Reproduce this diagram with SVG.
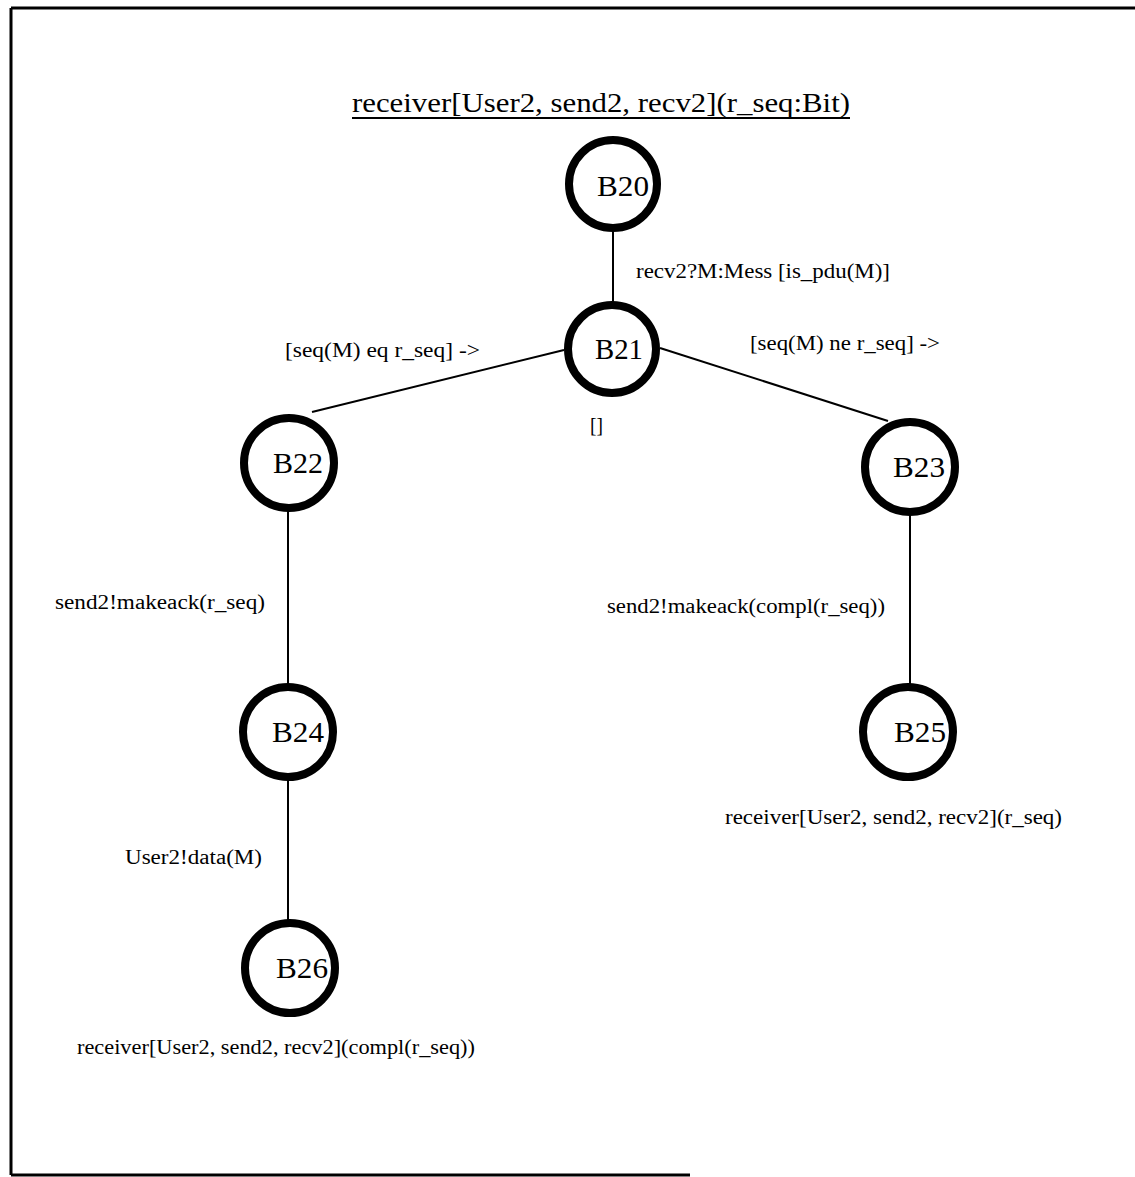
<svg xmlns="http://www.w3.org/2000/svg" width="1135" height="1177" viewBox="0 0 1135 1177">
  <style>
    .frame { stroke: #000; stroke-width: 3; fill: none; }
    .node circle { fill: #fff; stroke: #000; stroke-width: 8; }
    .node text { font-family: "Liberation Serif", "Times New Roman", serif; font-size: 30px; fill: #000; }
    .edges line { stroke: #000; stroke-width: 2; }
    .lbl { font-family: "Liberation Serif", "Times New Roman", serif; font-size: 20px; fill: #000; }
    .title { font-family: "Liberation Serif", "Times New Roman", serif; font-size: 27px; fill: #000; }
  </style>
  <rect width="1135" height="1177" fill="#fff"/>

  <!-- page frame -->
  <path class="frame" d="M11,8 H1135 M11,8 V1175 M11,1175 H690"/>

  <!-- process heading -->
  <text class="title" x="352" y="112" textLength="498" lengthAdjust="spacingAndGlyphs">receiver[User2, send2, recv2](r_seq:Bit)</text>
  <line x1="352" y1="118" x2="850" y2="118" stroke="#000" stroke-width="2"/>

  <!-- transitions -->
  <g class="edges">
    <line x1="613" y1="230" x2="613" y2="302"/>
    <line x1="564" y1="350" x2="312" y2="412"/>
    <line x1="660" y1="348" x2="888" y2="421"/>
    <line x1="288" y1="510" x2="288" y2="686"/>
    <line x1="910" y1="512" x2="910" y2="686"/>
    <line x1="288" y1="778" x2="288" y2="922"/>
  </g>

  <!-- transition labels -->
  <g>
    <text class="lbl" x="636" y="278" textLength="254" lengthAdjust="spacingAndGlyphs">recv2?M:Mess [is_pdu(M)]</text>
    <text class="lbl" x="285" y="357" textLength="195" lengthAdjust="spacingAndGlyphs">[seq(M) eq r_seq] -&gt;</text>
    <text class="lbl" x="750" y="350" textLength="190" lengthAdjust="spacingAndGlyphs">[seq(M) ne r_seq] -&gt;</text>
    <text class="lbl" x="590" y="432" textLength="13" lengthAdjust="spacingAndGlyphs">[]</text>
    <text class="lbl" x="55" y="609" textLength="210" lengthAdjust="spacingAndGlyphs">send2!makeack(r_seq)</text>
    <text class="lbl" x="607" y="613" textLength="278" lengthAdjust="spacingAndGlyphs">send2!makeack(compl(r_seq))</text>
    <text class="lbl" x="125" y="864" textLength="137" lengthAdjust="spacingAndGlyphs">User2!data(M)</text>
    <text class="lbl" x="725" y="824" textLength="337" lengthAdjust="spacingAndGlyphs">receiver[User2, send2, recv2](r_seq)</text>
    <text class="lbl" x="77" y="1054" textLength="398" lengthAdjust="spacingAndGlyphs">receiver[User2, send2, recv2](compl(r_seq))</text>
  </g>

  <!-- behaviour nodes -->
  <g id="B20" class="node">
    <circle cx="613" cy="184" r="44"/>
    <text x="597" y="196" textLength="52" lengthAdjust="spacingAndGlyphs">B20</text>
  </g>
  <g id="B21" class="node">
    <circle cx="612" cy="349" r="44"/>
    <text x="595" y="359" textLength="48" lengthAdjust="spacingAndGlyphs">B21</text>
  </g>
  <g id="B22" class="node">
    <circle cx="289" cy="463" r="45"/>
    <text x="273" y="473" textLength="50" lengthAdjust="spacingAndGlyphs">B22</text>
  </g>
  <g id="B23" class="node">
    <circle cx="910" cy="467" r="45"/>
    <text x="893" y="477" textLength="52" lengthAdjust="spacingAndGlyphs">B23</text>
  </g>
  <g id="B24" class="node">
    <circle cx="288" cy="732" r="45"/>
    <text x="272" y="742" textLength="52" lengthAdjust="spacingAndGlyphs">B24</text>
  </g>
  <g id="B25" class="node">
    <circle cx="908" cy="732" r="45"/>
    <text x="894" y="742" textLength="52" lengthAdjust="spacingAndGlyphs">B25</text>
  </g>
  <g id="B26" class="node">
    <circle cx="290" cy="968" r="45"/>
    <text x="276" y="978" textLength="52" lengthAdjust="spacingAndGlyphs">B26</text>
  </g>
</svg>
